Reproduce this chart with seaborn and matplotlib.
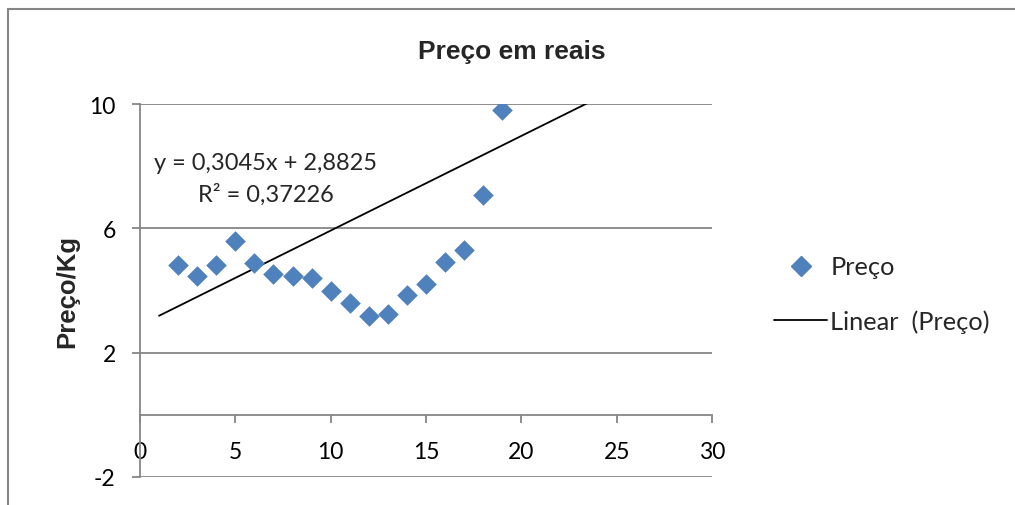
import matplotlib
matplotlib.use('Agg')
import matplotlib.pyplot as plt
from matplotlib.lines import Line2D
import numpy as np
import pandas as pd
import seaborn as sns

# Data
dias = [2, 3, 4, 5, 6, 7, 8, 9, 10, 11, 12, 13, 14, 15, 16, 17, 18, 19]
preco = [4.82, 4.47, 4.82, 5.59, 4.89, 4.53, 4.47, 4.41, 3.99, 3.60,
         3.17, 3.25, 3.86, 4.21, 4.92, 5.31, 7.07, 9.81]

# Trend line as printed on the chart
slope = 0.3045
intercept = 2.8825
r2 = 0.37226
trend_start, trend_end = 1, 25

x_ticks = [0, 5, 10, 15, 20, 25, 30]
y_ticks = [-2, 2, 6, 10]

blue = '#4F81BD'
grid_gray = '#868686'

df = pd.DataFrame({'x': dias, 'Preço': preco})

sns.set_style('white')
plt.rcParams['font.family'] = ['Lato', 'DejaVu Sans']
plt.rcParams['axes.unicode_minus'] = False

fig = plt.figure(figsize=(10.15, 5.06), dpi=100)
ax = fig.add_axes([140 / 1015, 28 / 506, 572 / 1015, 373 / 506])

# trend line (drawn first so the markers sit on top)
tx = np.array([trend_start, trend_end])
sns.lineplot(x=tx, y=slope * tx + intercept, ax=ax, color='black', lw=1.3)

sns.scatterplot(data=df, x='x', y='Preço', ax=ax, marker='D', s=110,
                color=blue, linewidth=0, zorder=3)

ax.set_xlim(0, 30)
ax.set_ylim(-2, 10)
ax.set_xticks(x_ticks)
ax.set_yticks(y_ticks)
ax.grid(axis='y', color=grid_gray, lw=1.3)
ax.grid(axis='x', visible=False)

for s in ['top', 'right']:
    ax.spines[s].set_visible(False)
ax.spines['bottom'].set_position(('data', 0))
ax.spines['bottom'].set_color(grid_gray)
ax.spines['bottom'].set_linewidth(1.3)
ax.spines['left'].set_color(grid_gray)
ax.spines['left'].set_linewidth(1.3)

ax.tick_params(axis='both', bottom=True, left=True, colors=grid_gray,
               labelcolor='black', labelsize=16.5, length=5.5, width=1.3,
               direction='out')
ax.tick_params(axis='x', pad=13)
ax.tick_params(axis='y', pad=12)

ax.set_xlabel('')
ax.set_ylabel('Preço/Kg', fontsize=18.5, fontweight='bold',
              family='Liberation Sans', labelpad=7)
fig.text(512 / 1015, 1 - 52 / 506, 'Preço em reais', ha='center', va='center',
         fontsize=19, fontweight='bold', family='Liberation Sans')

ax.text(126 / 572, (478 - 163) / 373,
        'y = 0,3045x + 2,8825', transform=ax.transAxes,
        ha='center', va='center', fontsize=17)
ax.text(126 / 572, (478 - 195) / 373,
        'R² = 0,37226', transform=ax.transAxes,
        ha='center', va='center', fontsize=17)

handles = [
    Line2D([], [], marker='D', color=blue, lw=0, markersize=10),
    Line2D([], [], color='black', lw=1.3),
]
fig.legend(handles, ['Preço', 'Linear  (Preço)'], loc='center left',
           bbox_to_anchor=(751 / 1015, 1 - 295 / 506), frameon=False,
           fontsize=18.3, handlelength=2.1, handletextpad=0.12,
           labelspacing=1.2)

# outer chart border (cut off at right and bottom)
fig.add_artist(Line2D([8 / 1015, 8 / 1015], [0, 1 - 10 / 506],
                      transform=fig.transFigure, color=grid_gray, lw=1.5))
fig.add_artist(Line2D([8 / 1015, 1], [1 - 10 / 506, 1 - 10 / 506],
                      transform=fig.transFigure, color=grid_gray, lw=1.5))

fig.savefig('out.png', dpi=100)
